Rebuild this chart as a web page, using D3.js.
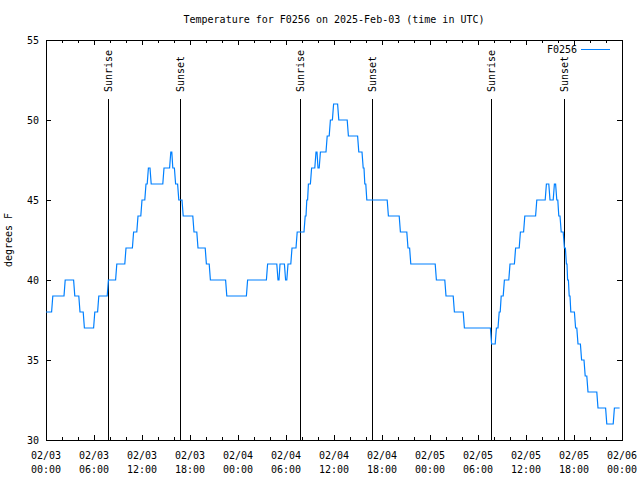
<!DOCTYPE html>
<html><head><meta charset="utf-8">
<script src="https://cdn.jsdelivr.net/npm/d3@7"></script>
<style>
body{margin:0;background:#fff;}
text{font-family:"DejaVu Sans Mono","Liberation Mono",monospace;font-size:10px;fill:#000;}
</style></head>
<body><svg id="c" width="640" height="480"></svg>
<script>
// ---- data ----
const titleText = "Temperature for F0256 on 2025-Feb-03 (time in UTC)";
const seriesName = "F0256";
const yLabel = "degrees F";
// hours since 2025-02-03 00:00 UTC where the reading changes, and the reading (°F)
const hours = [0,0.85,2.4,3.6,4.25,4.8,6.1,6.6,7.8,8.85,10.0,10.95,11.5,12.0,12.5,12.8,13.15,14.75,15.6,15.85,16.2,16.6,17.15,18.5,19.0,20.05,20.55,22.6,25.2,27.7,29.0,29.25,29.95,30.25,30.75,31.4,32.4,32.6,32.8,33.2,33.75,34.0,34.3,35.15,35.55,35.95,36.6,37.8,39.1,39.65,39.85,40.1,42.8,44.3,45.25,45.6,48.8,50.0,51.05,52.3,55.7,56.3,56.65,56.9,57.3,58.0,58.7,59.3,59.85,61.35,62.55,63.0,63.55,63.85,64.1,64.4,64.8,65.05,65.2,65.4,65.6,66.2,66.5,66.95,67.4,67.75,69.0,70.1,71.05,71.7];
const temps = [38,39,40,39,38,37,38,39,40,41,42,43,44,45,46,47,46,47,48,47,46,45,44,43,42,41,40,39,40,41,40,41,40,41,42,43,44,45,46,47,48,47,48,49,50,51,50,49,48,47,46,45,44,43,42,41,40,39,38,37,36,37,38,39,40,41,42,43,44,45,46,45,46,45,44,43,42,41,40,39,38,37,36,35,34,33,32,31,32,32];
const sunLabels = ["Sunrise","Sunset","Sunrise","Sunset","Sunrise","Sunset"];
const sunHours = [7.75,16.75,31.75,40.75,55.63,64.75];
const yTicks = [30,35,40,45,50,55];

// ---- layout ----
const L=46,R=622,T=40,B=440;
const t0 = Date.UTC(2025,1,3,0,0);
const H = 3600*1000;
const toDate = h => new Date(t0 + h*H);
const x = d3.scaleUtc().domain([toDate(0), toDate(72)]).range([L,R]);
const y = d3.scaleLinear().domain([30,55]).range([B,T]);
const svg = d3.select("#c");
const blue = "#0080ff";
const sampleStep = 0.15; // hours between consecutive readings (transition width)

// title
svg.append("text").attr("x",(L+R)/2).attr("y",23).attr("text-anchor","middle").text(titleText);
// y label
svg.append("text").attr("transform","translate(12,240) rotate(-90)").attr("text-anchor","middle").text(yLabel);

// x ticks (minor every 2h, major every 6h), bottom and top, inward
const minor = d3.utcHour.every(2).range(toDate(0), toDate(72.01));
const major = d3.utcHour.every(6).range(toDate(0), toDate(72.01));
const gt = svg.append("g").attr("stroke","#000").attr("shape-rendering","crispEdges");
minor.forEach(d=>{
  const xx=Math.round(x(d))+0.5;
  const len = (d.getUTCHours()%6===0)?5:3;
  gt.append("line").attr("x1",xx).attr("x2",xx).attr("y1",B).attr("y2",B-len);
  gt.append("line").attr("x1",xx).attr("x2",xx).attr("y1",T).attr("y2",T+len);
});
// x labels
const fmt1 = d3.utcFormat("%m/%d"), fmt2 = d3.utcFormat("%H:%M");
const xl = svg.append("g");
major.forEach(d=>{
  const tx = xl.append("text").attr("x",x(d)).attr("text-anchor","middle");
  tx.append("tspan").attr("x",x(d)).attr("y",459).text(fmt1(d));
  tx.append("tspan").attr("x",x(d)).attr("y",473).text(fmt2(d));
});

// y axis with inward ticks
const ya = svg.append("g").attr("transform",`translate(${L},0)`)
  .call(d3.axisLeft(y).tickValues(yTicks).tickSize(-5).tickSizeOuter(0).tickPadding(7).tickFormat(d3.format("d")));
ya.select(".domain").remove();
ya.selectAll("line").attr("shape-rendering","crispEdges");
ya.selectAll("text").attr("font-family",null).attr("font-size",null);
const yr = svg.append("g").attr("transform",`translate(${R},0)`)
  .call(d3.axisRight(y).tickValues(yTicks).tickSize(-5).tickSizeOuter(0).tickFormat(""));
yr.select(".domain").remove();
yr.selectAll("line").attr("shape-rendering","crispEdges");

// frame
svg.append("rect").attr("x",L+0.5).attr("y",T+0.5).attr("width",R-L).attr("height",B-T)
  .attr("fill","none").attr("stroke","#000").attr("shape-rendering","crispEdges");

// sunrise / sunset
const sg = svg.append("g");
sunHours.forEach((h,i)=>{
  const xx = Math.round(x(toDate(h)))+0.5;
  sg.append("line").attr("x1",xx).attr("x2",xx).attr("y1",99).attr("y2",B)
    .attr("stroke","#000").attr("shape-rendering","crispEdges");
  sg.append("text").attr("transform",`translate(${xx},92) rotate(-90)`)
    .attr("text-anchor","start").attr("dominant-baseline","central").text(sunLabels[i]);
});

// data line: each reading holds until the next one; consecutive readings joined by short segments
const pts = [];
hours.forEach((h,i)=>{
  pts.push({d:toDate(h),v:temps[i]});
  if(i<hours.length-1){
    const next = hours[i+1];
    const dt = Math.min(sampleStep,(next-h)/2);
    pts.push({d:toDate(next-dt),v:temps[i]});
  }
});
svg.append("path").datum(pts)
  .attr("d",d3.line().x(p=>x(p.d)).y(p=>y(p.v)))
  .attr("fill","none").attr("stroke",blue).attr("stroke-width",1.2);

// legend
svg.append("text").attr("x",577).attr("y",49).attr("text-anchor","end").attr("dominant-baseline","central").text(seriesName);
svg.append("line").attr("x1",581).attr("x2",610).attr("y1",49.5).attr("y2",49.5).attr("stroke",blue).attr("shape-rendering","crispEdges");
</script></body></html>
